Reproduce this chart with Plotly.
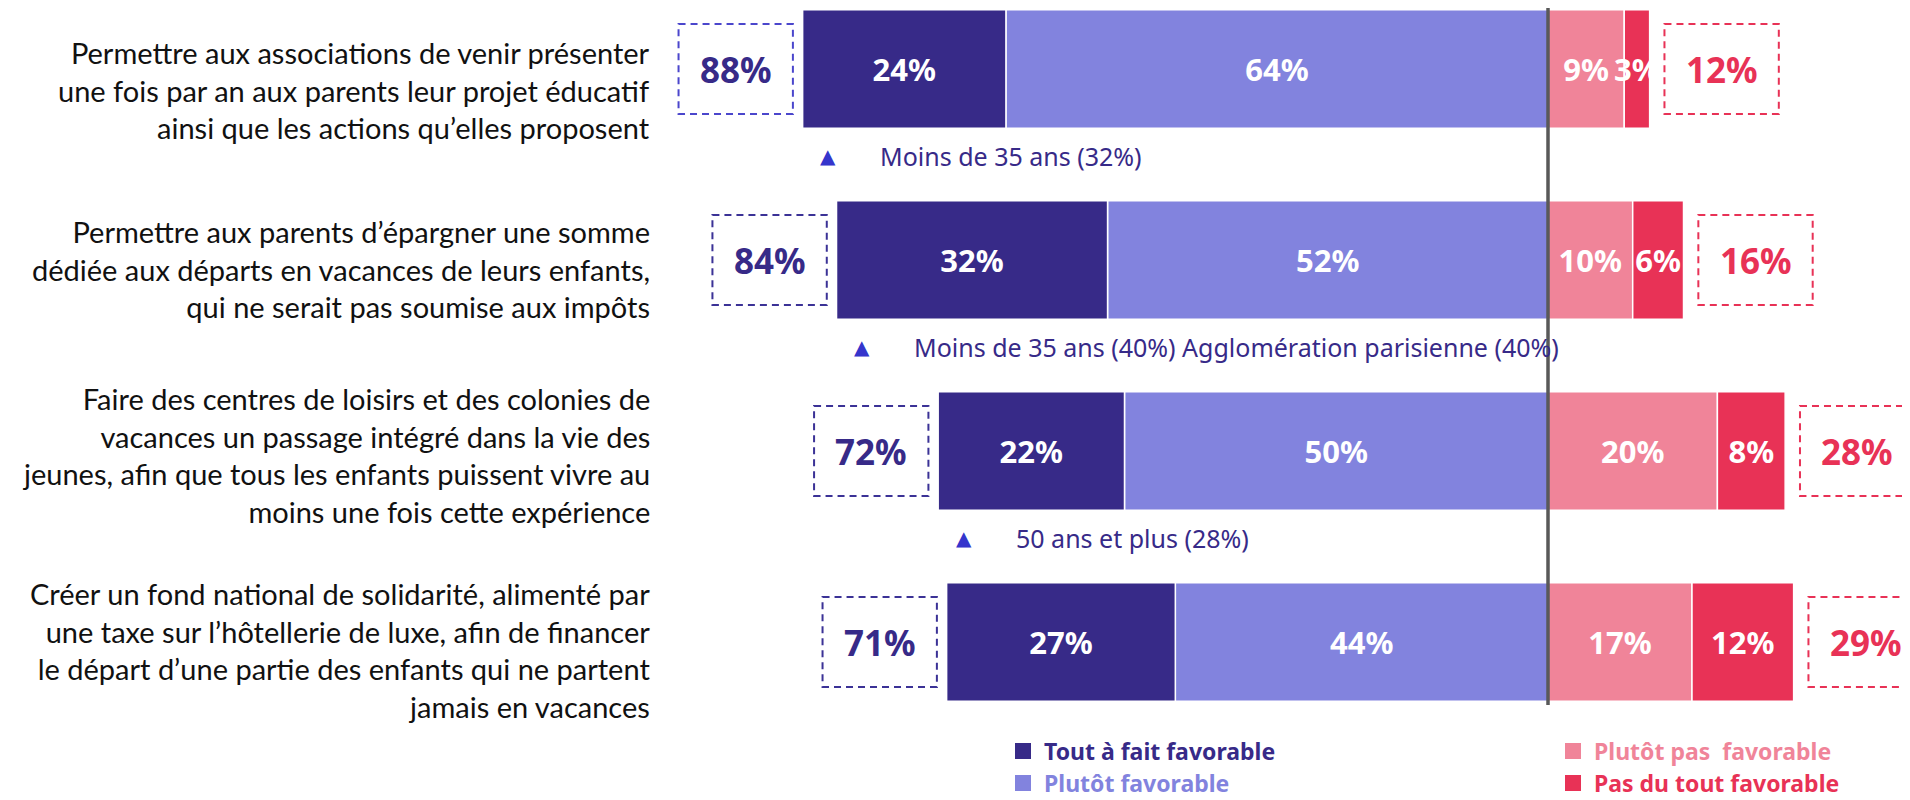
import plotly.graph_objects as go

# ---------------- data ----------------
items = [
    "Permettre aux associations de venir présenter<br>une fois par an aux parents leur projet éducatif<br>ainsi que les actions qu’elles proposent",
    "Permettre aux parents d’épargner une somme<br>dédiée aux départs en vacances de leurs enfants,<br>qui ne serait pas soumise aux impôts",
    "Faire des centres de loisirs et des colonies de<br>vacances un passage intégré dans la vie des<br>jeunes, afin que tous les enfants puissent vivre au<br>moins une fois cette expérience",
    "Créer un fond national de solidarité, alimenté par<br>une taxe sur l’hôtellerie de luxe, afin de financer<br>le départ d’une partie des enfants qui ne partent<br>jamais en vacances",
]
tout_a_fait = [24, 32, 22, 27]
plutot_fav = [64, 52, 50, 44]
plutot_pas = [9, 10, 20, 17]
pas_du_tout = [3, 6, 8, 12]
total_fav = [88, 84, 72, 71]
total_defav = [12, 16, 28, 29]
subgroups = [
    "Moins de 35 ans (32%)",
    "Moins de 35 ans (40%) Agglomération parisienne (40%)",
    "50 ans et plus (28%)",
    "",
]
series_names = ["Tout à fait favorable", "Plutôt favorable", "Plutôt pas  favorable", "Pas du tout favorable"]
series_colors = ["#372a88", "#8283de", "#f08499", "#e83256"]

# ---------------- figure ----------------
OFF = 8                      # browser default body margin
W, H = 1910 - OFF, 800 - OFF
NUM_FONT = "Noto Sans"
LBL_FONT = "Lato"
ypos = list(range(len(items)))
label_dy = [0.11, 0.047, 0.02, 0.042]

fig = go.Figure()

def add_bar(vals, sign, color, name):
    fig.add_trace(go.Bar(
        y=ypos, x=[sign * v for v in vals], orientation="h", name=name,
        marker=dict(color=color, line=dict(color="white", width=1.5)),
        width=0.62,
        text=[f"{v}%" for v in vals], textposition="inside",
        insidetextanchor="middle", textangle=0, constraintext="none",
        textfont=dict(family=NUM_FONT, size=31, color="white", weight="bold"),
        showlegend=False, hoverinfo="skip",
    ))

# negative side stacks outward from zero in trace order
add_bar(plutot_fav, -1, series_colors[1], series_names[1])
add_bar(tout_a_fait, -1, series_colors[0], series_names[0])
add_bar(plutot_pas, 1, series_colors[2], series_names[2])
add_bar(pas_du_tout, 1, series_colors[3], series_names[3])

shapes = []
annotations = []

# centre line
shapes.append(dict(type="line", xref="x", yref="y", x0=0, x1=0, y0=-0.32, y1=3.33,
                   line=dict(color="#595959", width=3.5), layer="above"))

BOX_HALF_W = 6.75
BOX_HALF_H = 0.235
left_box_colors = ["#4b46cc", "#3b3296", "#3b3296", "#3b3296"]
for i in ypos:
    # left total box
    cx = -total_fav[i] - 7.9
    shapes.append(dict(type="rect", xref="x", yref="y",
                       x0=cx - BOX_HALF_W, x1=cx + BOX_HALF_W,
                       y0=i - BOX_HALF_H, y1=i + BOX_HALF_H,
                       line=dict(color=left_box_colors[i], width=2, dash="7px,5px")))
    annotations.append(dict(x=cx, y=i, xref="x", yref="y", text=f"<b>{total_fav[i]}%</b>",
                            showarrow=False, font=dict(family=NUM_FONT, size=35, color=series_colors[0])))
    # right total box
    cx = total_defav[i] + 8.5
    shapes.append(dict(type="rect", xref="x", yref="y",
                       x0=cx - BOX_HALF_W, x1=cx + BOX_HALF_W,
                       y0=i - BOX_HALF_H, y1=i + BOX_HALF_H,
                       line=dict(color=series_colors[3], width=2, dash="7px,5px")))
    annotations.append(dict(x=cx, y=i, xref="x", yref="y", text=f"<b>{total_defav[i]}%</b>",
                            showarrow=False, font=dict(family=NUM_FONT, size=35, color=series_colors[3])))
    # item label
    annotations.append(dict(x=-105.8, y=i + label_dy[i], xref="x", yref="y", text=items[i],
                            showarrow=False, xanchor="right", yanchor="middle", align="right",
                            font=dict(family=LBL_FONT, size=29, color="#111111")))
    # subgroup
    if subgroups[i]:
        annotations.append(dict(x=-total_fav[i] + 3, y=i + 0.455, xref="x", yref="y", text="▲",
                                showarrow=False, xanchor="center", yanchor="middle",
                                font=dict(family="DejaVu Sans", size=20, color="#3535cc")))
        annotations.append(dict(x=-total_fav[i] + 8.9, y=i + 0.455, xref="x", yref="y",
                                text=subgroups[i], showarrow=False, xanchor="left", yanchor="middle",
                                font=dict(family=NUM_FONT, size=25, color=series_colors[0])))

# legend (2 columns), positions in page pixels
legend_pos = [(1015, 751), (1015, 783), (1565, 751), (1565, 783)]
for (px, py), name, color in zip(legend_pos, series_names, series_colors):
    fx, fy = px - OFF, py - OFF
    shapes.append(dict(type="rect", xref="paper", yref="paper",
                       x0=fx / W, x1=(fx + 16) / W, y0=1 - (fy + 8) / H, y1=1 - (fy - 8) / H,
                       fillcolor=color, line=dict(width=0)))
    annotations.append(dict(x=(fx + 28) / W, y=1 - fy / H, xref="paper", yref="paper",
                            text=f"<b>{name}</b>", showarrow=False, xanchor="left", yanchor="middle",
                            borderpad=0,
                            font=dict(family=NUM_FONT, size=23, color=color)))

PX_PER = 8.47
ZERO_X = 1548 - OFF
ROW0_Y = 69 - OFF
ROW_STEP = 191
x_lo = -ZERO_X / PX_PER
x_hi = (W - ZERO_X) / PX_PER
y_top = -ROW0_Y / ROW_STEP
y_bot = (H - ROW0_Y) / ROW_STEP

fig.update_layout(
    width=W, height=H, barmode="relative",
    margin=dict(l=0, r=0, t=0, b=0),
    paper_bgcolor="white", plot_bgcolor="white",
    xaxis=dict(range=[x_lo, x_hi], visible=False, fixedrange=True),
    yaxis=dict(range=[y_bot, y_top], visible=False, fixedrange=True),
    shapes=shapes, annotations=annotations,
    showlegend=False,
)

fig.write_html("out.html")
